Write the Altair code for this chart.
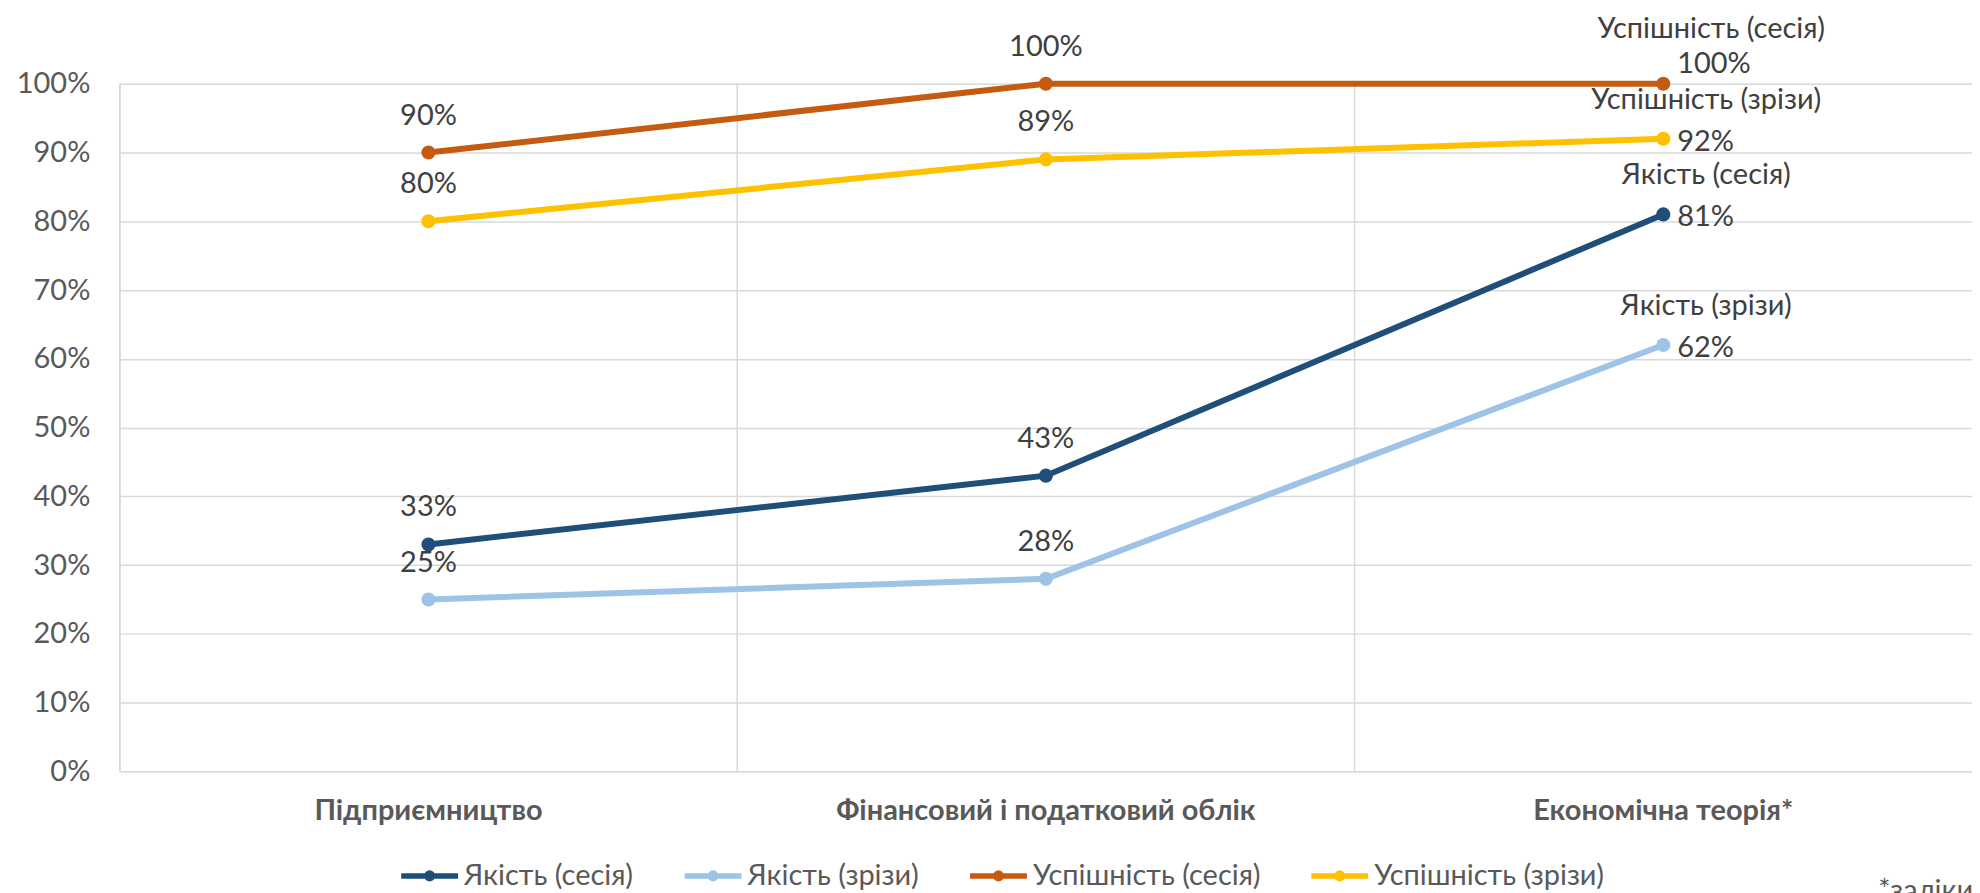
import altair as alt
import pandas as pd

categories = ["Підприємництво", "Фінансовий і податковий облік", "Економічна теорія*"]
series = ["Якість (сесія)", "Якість (зрізи)", "Успішність (сесія)", "Успішність (зрізи)"]
colors = ["#1F4E79", "#9DC3E6", "#C55A11", "#FFC000"]

quality_session = [33, 43, 81]
quality_cuts = [25, 28, 62]
success_session = [90, 100, 100]
success_cuts = [80, 89, 92]

y_ticks = [0, 10, 20, 30, 40, 50, 60, 70, 80, 90, 100]
note_text = "*заліки"

rows = []
for s, vals in zip(series, [quality_session, quality_cuts, success_session, success_cuts]):
    for c, v in zip(categories, vals):
        rows.append({"cat": c, "series": s, "value": v, "last": c == categories[-1]})
df = pd.DataFrame(rows)

FONT = "Lato, Noto Sans, sans-serif"
W, H = 1856, 689
FS = 29

path_sym = "M-1,0L1,0M-0.1,0A0.1,0.1 0 1,1 0.1,0A0.1,0.1 0 1,1 -0.1,0"

xscale = alt.Scale(domain=categories, paddingInner=0, paddingOuter=0)
yscale = alt.Scale(domain=[0, 100], nice=False)
cscale = alt.Scale(domain=series, range=colors)

x_axis = alt.Axis(
    labelAngle=0,
    labelFont=FONT,
    labelFontSize=FS,
    labelFontWeight="bold",
    labelColor="#595959",
    labelPadding=25,
    labelLimit=600,
    ticks=False,
    domain=False,
    grid=False,
)

base = alt.Chart(df)

grid_x = alt.Chart(pd.DataFrame({"cat": categories})).mark_rule(
    color="#D9D9D9", strokeWidth=1.5
).encode(
    x=alt.X("cat:N", scale=xscale, sort=categories, bandPosition=0, title=None, axis=x_axis),
)

lines = base.mark_line(strokeWidth=6).encode(
    x=alt.X("cat:N", scale=xscale, sort=categories, title=None, axis=x_axis),
    y=alt.Y(
        "value:Q",
        scale=yscale,
        title=None,
        axis=alt.Axis(
            values=y_ticks,
            labelExpr="datum.value + '%'",
            labelFont=FONT,
            labelFontSize=FS,
            labelColor="#595959",
            labelPadding=30,
            ticks=False,
            domain=False,
            grid=True,
            gridColor="#D9D9D9",
            gridWidth=1.5,
        ),
    ),
    color=alt.Color(
        "series:N",
        scale=cscale,
        sort=series,
        legend=alt.Legend(
            title=None,
            orient="none",
            direction="horizontal",
            legendX=279,
            legendY=762,
            symbolType=path_sym,
            symbolSize=3249,
            symbolStrokeWidth=5.5,
            labelFont=FONT,
            labelFontSize=FS,
            labelColor="#595959",
            labelOffset=3,
            labelLimit=500,
            columnPadding=40,
        ),
    ),
    detail="series:N",
)

points = base.mark_circle(size=200, opacity=1).encode(
    x=alt.X("cat:N", scale=xscale),
    y=alt.Y("value:Q", scale=yscale),
    color=alt.Color("series:N", scale=cscale, legend=None),
)

lab_base = base.transform_calculate(lbl="datum.value + '%'")

labels_first = lab_base.transform_filter("!datum.last").mark_text(
    font=FONT, fontSize=FS, color="#404040", dy=-37, baseline="middle", align="center"
).encode(x=alt.X("cat:N", scale=xscale), y=alt.Y("value:Q", scale=yscale), text="lbl:N")

labels_last = lab_base.transform_filter("datum.last && datum.value < 100").mark_text(
    font=FONT, fontSize=FS, color="#404040", dx=14, dy=3, baseline="middle", align="left"
).encode(x=alt.X("cat:N", scale=xscale), y=alt.Y("value:Q", scale=yscale), text="lbl:N")

labels_last100 = lab_base.transform_filter("datum.last && datum.value >= 100").mark_text(
    font=FONT, fontSize=FS, color="#404040", dx=14, dy=-20, baseline="middle", align="left"
).encode(x=alt.X("cat:N", scale=xscale), y=alt.Y("value:Q", scale=yscale), text="lbl:N")

names_last = base.transform_filter("datum.last && datum.value < 100").mark_text(
    font=FONT, fontSize=FS, color="#404040", dx=43, dy=-39, baseline="middle", align="center"
).encode(x=alt.X("cat:N", scale=xscale), y=alt.Y("value:Q", scale=yscale), text="series:N")

names_last100 = base.transform_filter("datum.last && datum.value >= 100").mark_text(
    font=FONT, fontSize=FS, color="#404040", dx=48, dy=-55, baseline="middle", align="center"
).encode(x=alt.X("cat:N", scale=xscale), y=alt.Y("value:Q", scale=yscale), text="series:N")

note = alt.Chart(pd.DataFrame({"note": [note_text]})).mark_text(
    font=FONT, fontSize=FS, color="#595959", align="left", baseline="top"
).encode(text="note:N", x=alt.value(1762), y=alt.value(795))

chart = alt.layer(
    grid_x, lines, points, labels_first, labels_last, labels_last100, names_last, names_last100, note
).properties(
    width=W,
    height=H,
    padding={"left": 112, "top": 75, "right": 0, "bottom": 121},
    autosize=alt.AutoSizeParams(type="none"),
).configure_view(stroke=None).configure(font=FONT)

chart.save("out.html", embed_options={"renderer": "svg", "actions": False})
